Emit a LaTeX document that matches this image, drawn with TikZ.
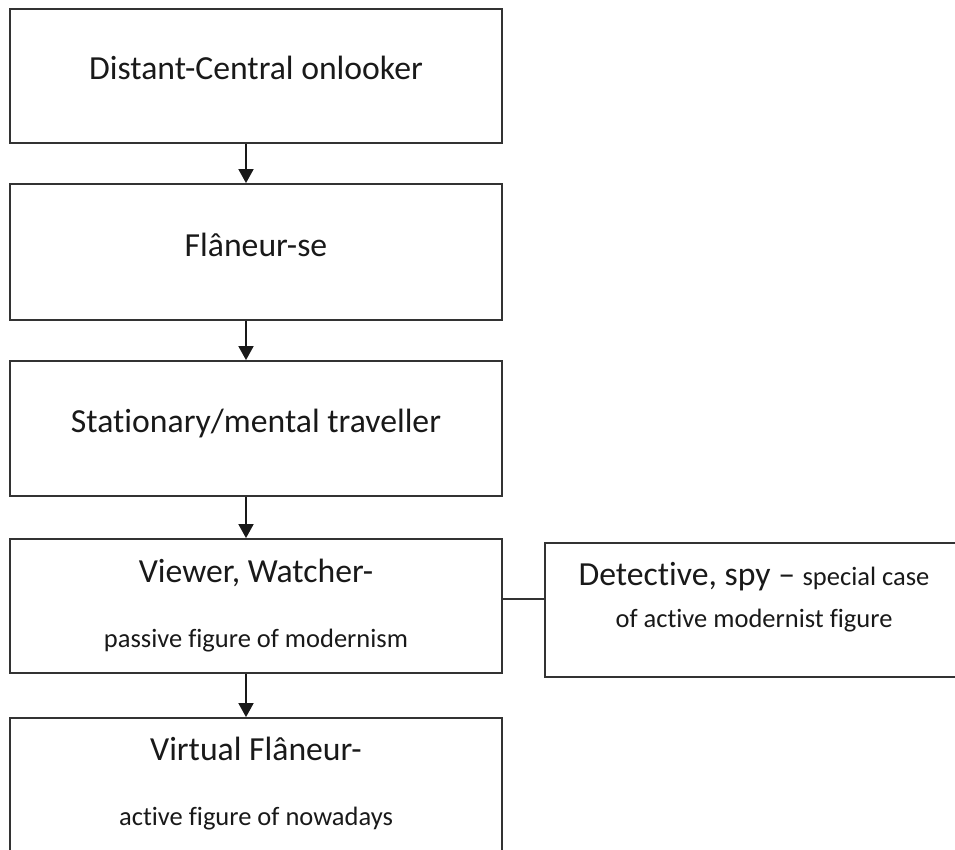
\documentclass[tikz,border=0pt]{standalone}
\usepackage{fontspec}
\setmainfont{Carlito}[Ligatures={TeX,NoCommon}]
\usetikzlibrary{arrows.meta}

\tikzset{
  box/.style={draw=black!80, line width=1.8pt, minimum width=492pt, inner sep=0pt},
  big/.style={font=\fontsize{33.7}{40}\selectfont, anchor=base, inner sep=0pt, text=black!90},
  small/.style={font=\fontsize{26.5}{32}\selectfont, anchor=base, inner sep=0pt, text=black!90},
  arr/.style={-{Triangle[length=14pt,width=15pt]}, line width=1.8pt, draw=black!90}
}

\begin{document}
\begin{tikzpicture}[x=1pt, y=-1pt]

\useasboundingbox (0,0) rectangle (955,850);

\node[name=b1, box, minimum height=134pt] at (256,76) {};
\node[name=b2, box, minimum height=136pt] at (256,252) {};
\node[name=b3, box, minimum height=135pt] at (256,428.5) {};
\node[name=b4, box, minimum height=134pt] at (256,606) {};
\node[name=b5, box, minimum height=200pt] at (256,818) {};
\node[name=side, box, minimum width=415pt, minimum height=134pt] at (752.5,610) {};

\node[name=t1, big] at (256,80) {Distant-Central onlooker};
\node[name=t2, big] at (256,257) {Flâneur-se};
\node[name=t3, big] at (256,432) {Stationary/mental traveller};
\node[name=t4, big] at (256,582) {Viewer, Watcher-};
\node[name=t4b, small] at (256,647) {passive figure of modernism};
\node[name=t5, big] at (256,760) {Virtual Flâneur-};
\node[name=t5b, small] at (256,825) {active figure of nowadays};
\node[name=ts, big] at (754,585) {Detective, spy – {\fontsize{26.5}{32}\selectfont special case}};
\node[name=tsb, small] at (754,627) {of active modernist figure};

\draw[arr] ([xshift=-10pt]b1.south) -- ([xshift=-10pt]b2.north);
\draw[arr] ([xshift=-10pt]b2.south) -- ([xshift=-10pt]b3.north);
\draw[arr] ([xshift=-10pt]b3.south) -- ([xshift=-10pt]b4.north);
\draw[arr] ([xshift=-10pt]b4.south) -- ([xshift=-10pt]b5.north);
\draw[line width=1.4pt, black!80] ([yshift=7pt]b4.east) -- ([yshift=7pt]b4.east -| side.west);
\end{tikzpicture}
\end{document}
